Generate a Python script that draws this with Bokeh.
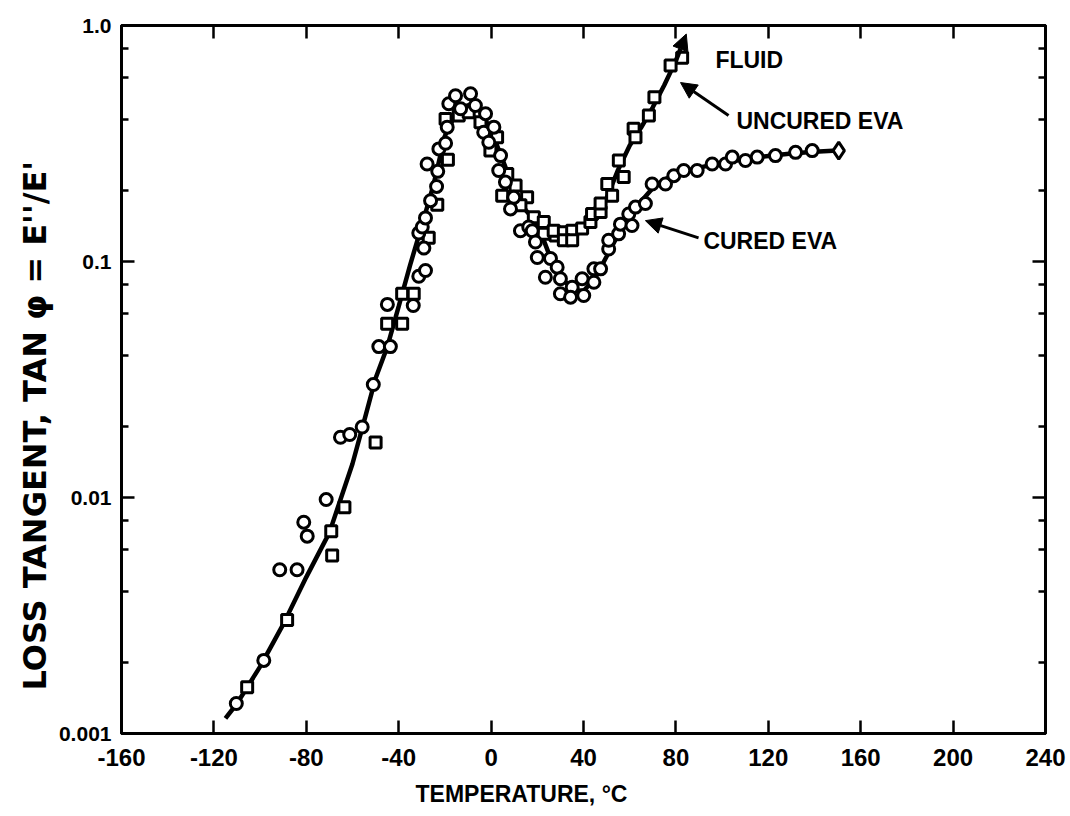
from bokeh.plotting import figure
from bokeh.models import (FixedTicker, LinearAxis, LogAxis, Range1d, Arrow,
                          NormalHead, Label, Title)
from bokeh.embed import file_html
from bokeh.resources import INLINE

# ---------------- data ----------------
x_ticks = [-160, -120, -80, -40, 0, 40, 80, 120, 160, 200, 240]
x_tick_labels = ["-160", "-120", "-80", "-40", "0", "40", "80", "120", "160",
                 "200", "240"]
y_ticks = [0.001, 0.01, 0.1, 1.0]
y_tick_labels = ["0.001", "0.01", "0.1", "1.0"]
y_minor_ticks = [0.002, 0.004, 0.006, 0.008, 0.02, 0.04, 0.06, 0.08,
                 0.2, 0.4, 0.6, 0.8]

# common fitted curve (glass transition region)
common_fit_temp = [-115, -110, -100, -90, -80, -70, -60, -55, -50, -45, -40,
                   -35, -30, -25, -20, -15, -10, -5, 0, 5, 10, 15, 20]
common_fit_tan = [0.00116, 0.00134, 0.00192, 0.0029, 0.0046, 0.0071, 0.0139,
                  0.021, 0.032, 0.0433, 0.0645, 0.097, 0.142, 0.21, 0.34,
                  0.43, 0.46, 0.44, 0.36, 0.27, 0.2, 0.165, 0.145]

# uncured EVA branch of fitted curve
uncured_fit_temp = [20, 25, 30, 35, 40, 45, 50, 55, 60, 65, 70, 75, 80, 84.5]
uncured_fit_tan = [0.145, 0.137, 0.132, 0.131, 0.137, 0.152, 0.185, 0.245,
                   0.31, 0.37, 0.45, 0.56, 0.71, 0.92]

# cured EVA branch of fitted curve
cured_fit_temp = [20, 25, 30, 35, 40, 45, 50, 55, 60, 65, 70, 75, 80, 90,
                  100, 110, 120, 130, 140, 150]
cured_fit_tan = [0.145, 0.108, 0.087, 0.076, 0.075, 0.085, 0.105, 0.13,
                 0.155, 0.18, 0.205, 0.222, 0.235, 0.25, 0.262, 0.272,
                 0.28, 0.287, 0.292, 0.295]

# measured points, cured EVA (circles)
cured_temp = [-110.3, -98.4, -91.5, -84.0, -79.6, -81.1, -71.4, -65.2, -61.2,
              -55.8, -51.0, -48.6, -43.6, -44.9, -33.7, -31.3, -28.4, -29.1,
              -31.3, -29.8, -28.4, -26.2, -23.6, -27.7, -23.1, -22.6, -19.7,
              -19.0, -18.3, -15.4, -13.2, -8.9, -6.8, -2.4, -3.2, 1.2, -1.0,
              4.1, 3.3, 6.2, 9.8, 8.4, 12.7, 16.3, 17.8, 19.2, 20.0, 25.7,
              28.6, 23.5, 30.0, 30.0, 35.1, 34.4, 40.1, 39.4, 44.5, 44.5,
              47.4, 50.9, 50.9, 55.2, 56.0, 61.0, 59.6, 62.5, 66.8, 69.7,
              75.5, 79.1, 83.4, 89.2, 95.7, 101.5, 104.4, 110.1, 115.2,
              123.1, 131.8, 139.0, 150.5]
cured_tan = [0.00134, 0.00204, 0.00494, 0.00494, 0.00686, 0.00786, 0.0098,
             0.018, 0.0185, 0.0199, 0.0301, 0.0436, 0.0436, 0.0658, 0.0651,
             0.0866, 0.0916, 0.114, 0.132, 0.140, 0.153, 0.181, 0.208, 0.259,
             0.241, 0.300, 0.317, 0.371, 0.466, 0.504, 0.444, 0.514, 0.458,
             0.423, 0.353, 0.371, 0.320, 0.281, 0.243, 0.217, 0.187, 0.167,
             0.135, 0.140, 0.135, 0.121, 0.104, 0.103, 0.0946, 0.0858,
             0.0845, 0.073, 0.0778, 0.0706, 0.0718, 0.0845, 0.0817, 0.0931,
             0.0931, 0.113, 0.123, 0.131, 0.144, 0.142, 0.159, 0.170, 0.176,
             0.213, 0.213, 0.231, 0.243, 0.243, 0.259, 0.259, 0.277, 0.268,
             0.277, 0.281, 0.290, 0.295, 0.295]

# measured points, uncured EVA (squares)
uncured_temp = [-105.6, -88.3, -68.8, -69.2, -63.5, -50.0, -45.0, -38.5,
                -38.5, -33.5, -27.0, -23.3, -18.7, -19.7, -14.0, -9.7, -4.6,
                2.6, -0.3, 7.0, 10.6, 4.8, 15.6, 12.7, 18.5, 22.8, 22.8, 27.9,
                27.1, 31.5, 35.1, 31.5, 35.1, 39.4, 43.0, 43.7, 47.4, 47.4,
                52.4, 50.3, 57.4, 55.3, 61.7, 62.5, 68.3, 70.7, 77.7, 82.7]
uncured_tan = [0.00157, 0.00303, 0.00568, 0.0072, 0.0091, 0.0171, 0.0545,
               0.0545, 0.073, 0.073, 0.126, 0.174, 0.270, 0.402, 0.416,
               0.429, 0.389, 0.336, 0.295, 0.235, 0.210, 0.190, 0.187, 0.173,
               0.154, 0.147, 0.131, 0.129, 0.135, 0.133, 0.135, 0.123, 0.123,
               0.138, 0.147, 0.159, 0.162, 0.176, 0.190, 0.213, 0.228, 0.268,
               0.365, 0.336, 0.416, 0.497, 0.677, 0.730]

# ---------------- figure ----------------
p = figure(width=1070, height=816, x_range=Range1d(-160, 240),
           y_range=Range1d(0.001, 1.0), y_axis_type="log",
           output_backend="svg", toolbar_location=None,
           min_border_left=121, min_border_right=25, min_border_top=25,
           min_border_bottom=83)
p.xgrid.visible = False
p.ygrid.visible = False
p.outline_line_color = "black"
p.outline_line_width = 3
p.background_fill_color = "white"
p.border_fill_color = "white"

TICK_FONT = "Liberation Sans"
WIDE_FONT = "DejaVu Sans"


def style_axis(ax, labels=True, size="21px"):
    ax.axis_line_color = "black"
    ax.axis_line_width = 3
    ax.major_tick_line_color = "black"
    ax.major_tick_line_width = 2.5
    ax.minor_tick_line_color = "black"
    ax.minor_tick_line_width = 2.5
    ax.major_tick_in = 13
    ax.major_tick_out = 0
    ax.minor_tick_in = 7
    ax.minor_tick_out = 0
    if labels:
        ax.major_label_text_font = TICK_FONT
        ax.major_label_text_font_style = "bold"
        ax.major_label_text_font_size = size
        ax.major_label_text_color = "black"
    else:
        ax.major_label_text_font_size = "1px"
        ax.major_label_text_alpha = 0
        ax.major_label_standoff = 0


xb = p.xaxis[0]
xb.ticker = FixedTicker(ticks=x_ticks, minor_ticks=[])
xb.major_label_overrides = {t: s for t, s in zip(x_ticks, x_tick_labels)}
style_axis(xb, size="24px")
xb.major_label_standoff = 15

yl = p.yaxis[0]
yl.ticker = FixedTicker(ticks=y_ticks, minor_ticks=y_minor_ticks)
yl.major_label_overrides = {t: s for t, s in zip(y_ticks, y_tick_labels)}
style_axis(yl, size="21px")
yl.major_label_standoff = 10

xt = LinearAxis(ticker=FixedTicker(ticks=x_ticks, minor_ticks=[]))
style_axis(xt, labels=False)
p.add_layout(xt, "above")

yr = LogAxis(ticker=FixedTicker(ticks=y_ticks, minor_ticks=y_minor_ticks))
style_axis(yr, labels=False)
p.add_layout(yr, "right")

xtitle = Title(text="TEMPERATURE, \u00b0C", align="left", offset=294,
               text_font=TICK_FONT, text_font_style="bold",
               text_font_size="23px", text_color="black", standoff=20)
p.add_layout(xtitle, "below")

ytitle = Title(text="LOSS TANGENT, TAN \u03c6 = E''/E'", align="left",
               offset=43, text_font=WIDE_FONT, text_font_style="bold",
               text_font_size="32px", text_color="black", standoff=0,
               vertical_align="top")
p.add_layout(ytitle, "left")

# fitted curves
p.line(common_fit_temp, common_fit_tan, line_color="black", line_width=4.5)
p.line(uncured_fit_temp[:-1], uncured_fit_tan[:-1], line_color="black",
       line_width=4.5)
p.line(cured_fit_temp, cured_fit_tan, line_color="black", line_width=4.5)
p.add_layout(Arrow(end=NormalHead(size=16, fill_color="black",
                                  line_color="black", line_width=1),
                   x_start=uncured_fit_temp[-2], y_start=uncured_fit_tan[-2],
                   x_end=uncured_fit_temp[-1], y_end=uncured_fit_tan[-1],
                   line_color="black", line_width=4.5))

# data points
p.scatter(uncured_temp, uncured_tan, marker="square", size=11,
          fill_color="white", line_color="black", line_width=3)
p.scatter(cured_temp[:-1], cured_tan[:-1], marker="circle", size=12,
          fill_color="white", line_color="black", line_width=3)
p.scatter(cured_temp[-1:], cured_tan[-1:], marker="diamond", size=17,
          fill_color="white", line_color="black", line_width=3)

# annotations
ann_font = dict(text_font=TICK_FONT, text_font_style="bold",
                text_font_size="23px", text_color="black",
                text_baseline="middle")
p.add_layout(Label(x=97.1, y=0.711, text="FLUID", **ann_font))
p.add_layout(Label(x=106.2, y=0.392, text="UNCURED EVA", **ann_font))
p.add_layout(Label(x=91.9, y=0.1216, text="CURED EVA", **ann_font))
p.add_layout(Arrow(end=NormalHead(size=16, fill_color="black",
                                  line_color="black"),
                   x_start=102.8, y_start=0.416, x_end=82.0, y_end=0.573,
                   line_color="black", line_width=3))
p.add_layout(Arrow(end=NormalHead(size=16, fill_color="black",
                                  line_color="black"),
                   x_start=89.8, y_start=0.126, x_end=66.8, y_end=0.149,
                   line_color="black", line_width=3))

open("out.html", "w").write(file_html(p, INLINE))
